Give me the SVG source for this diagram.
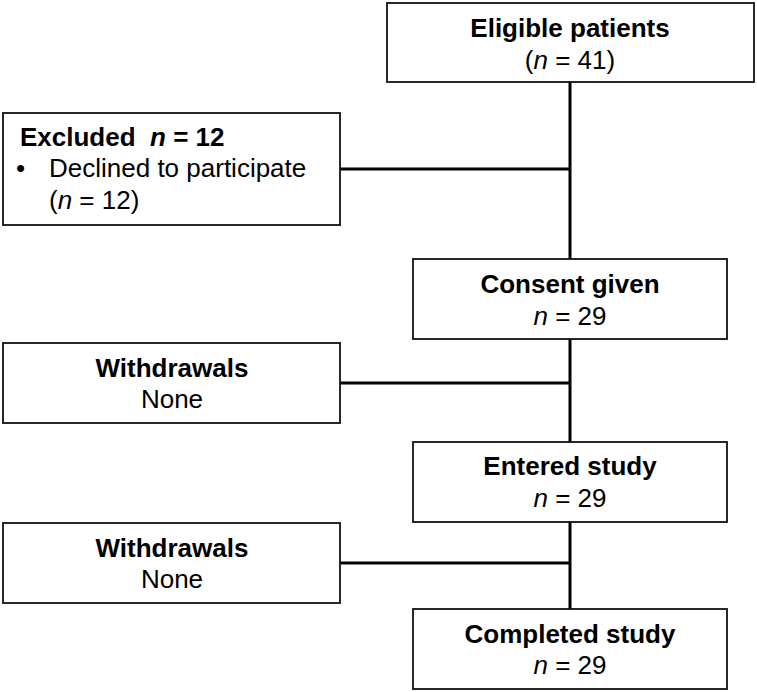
<svg xmlns="http://www.w3.org/2000/svg" width="757" height="692" viewBox="0 0 757 692">
<style>
.box{fill:#fff;stroke:#111;stroke-width:1.8}
.conn{stroke:#000;stroke-width:3;fill:none}
text{font-family:"Liberation Sans",Arial,sans-serif;font-size:26px;fill:#000}
.c{text-anchor:middle}
.b{font-weight:bold}
.i{font-style:italic}
</style>
<rect width="757" height="692" fill="#fff"/>
<g id="connectors">
<line class="conn" x1="570" y1="82" x2="570" y2="259"/>
<line class="conn" x1="570" y1="339" x2="570" y2="442"/>
<line class="conn" x1="570" y1="522" x2="570" y2="609"/>
<line class="conn" x1="340" y1="169" x2="570" y2="169"/>
<line class="conn" x1="340" y1="383" x2="570" y2="383"/>
<line class="conn" x1="340" y1="563" x2="570" y2="563"/>
</g>
<g id="eligible">
<rect class="box" x="387" y="3" width="367" height="79"/>
<text class="c b" x="570" y="37">Eligible patients</text>
<text class="c" x="570" y="69">(<tspan class="i">n</tspan> = 41)</text>
</g>
<g id="excluded">
<rect class="box" x="3" y="113" width="337" height="112"/>
<text class="b" x="20" y="146" xml:space="preserve">Excluded  <tspan class="i">n</tspan> = 12</text>
<text x="16" y="177">•</text>
<text x="49" y="177">Declined to participate</text>
<text x="49" y="209">(<tspan class="i">n</tspan> = 12)</text>
</g>
<g id="consent">
<rect class="box" x="413" y="259" width="314" height="80"/>
<text class="c b" x="570" y="293">Consent given</text>
<text class="c" x="570" y="325"><tspan class="i">n</tspan> = 29</text>
</g>
<g id="withdrawals1">
<rect class="box" x="3" y="343" width="337" height="80"/>
<text class="c b" x="172" y="377">Withdrawals</text>
<text class="c" x="172" y="408">None</text>
</g>
<g id="entered">
<rect class="box" x="413" y="442" width="314" height="80"/>
<text class="c b" x="570" y="475">Entered study</text>
<text class="c" x="570" y="507"><tspan class="i">n</tspan> = 29</text>
</g>
<g id="withdrawals2">
<rect class="box" x="3" y="523" width="337" height="80"/>
<text class="c b" x="172" y="557">Withdrawals</text>
<text class="c" x="172" y="588">None</text>
</g>
<g id="completed">
<rect class="box" x="413" y="609" width="314" height="80"/>
<text class="c b" x="570" y="643">Completed study</text>
<text class="c" x="570" y="674"><tspan class="i">n</tspan> = 29</text>
</g>
</svg>
